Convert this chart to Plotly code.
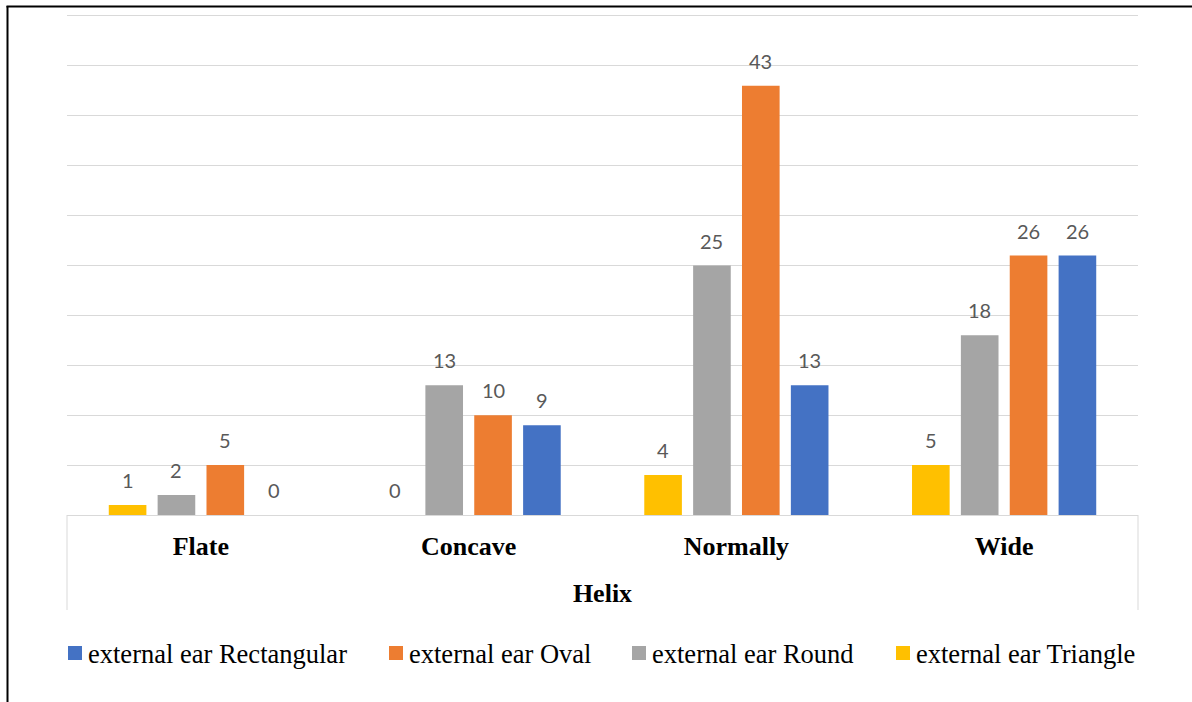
import plotly.graph_objects as go

categories = ["Flate", "Concave", "Normally", "Wide"]
triangle = [1, 0, 4, 5]
round_ = [2, 13, 25, 18]
oval = [5, 10, 43, 26]
rectangular = [0, 9, 13, 26]

series_names = ["external ear Triangle", "external ear Round",
                "external ear Oval", "external ear Rectangular"]
series_values = [triangle, round_, oval, rectangular]
series_colors = ["#FFC000", "#A5A5A5", "#ED7D31", "#4472C4"]

W, H = 1192, 702
ml, mr, mt, mb = 67, 54, 13, 187
pw, ph = W - ml - mr, H - mt - mb
bargap, bargroupgap = 0.27, 0.23
SERIF = "Liberation Serif"


def px_x(p):
    return (p - ml) / pw


def px_y(p):
    return (H - mb - p) / ph


fig = go.Figure()
for name, vals, col in zip(series_names, series_values, series_colors):
    fig.add_trace(go.Bar(x=categories, y=vals, name=name, showlegend=False,
                         marker=dict(color=col, line=dict(width=0))))

annotations = []
n = len(series_values)
slot = (1 - bargap) / n
for ti, vals in enumerate(series_values):
    off = -(1 - bargap) / 2 + (ti + 0.5) * slot
    for ci, v in enumerate(vals):
        annotations.append(dict(x=ci + off, y=v, xref="x", yref="y", text=str(v),
                                showarrow=False, yshift=25, yanchor="middle",
                                font=dict(family="Lato", size=20, color="#595959")))

shapes = []
for xd in (0, 1):
    shapes.append(dict(type="line", xref="x domain", yref="paper", x0=xd, x1=xd,
                       y0=0, y1=px_y(610), line=dict(color="#d9d9d9", width=1)))
# outer border (left and top)
shapes.append(dict(type="line", xref="paper", yref="paper", x0=px_x(7.5), x1=px_x(7.5),
                   y0=px_y(6), y1=px_y(710), line=dict(color="black", width=2)))
shapes.append(dict(type="line", xref="paper", yref="paper", x0=px_x(6.5), x1=px_x(1200),
                   y0=px_y(6.5), y1=px_y(6.5), line=dict(color="black", width=2)))

# legend (order: Rectangular, Oval, Round, Triangle)
legend_starts = [68, 389, 632, 896]
legend_y = 653
for start, idx in zip(legend_starts, [3, 2, 1, 0]):
    shapes.append(dict(type="rect", xref="paper", yref="paper",
                       x0=px_x(start), x1=px_x(start + 14),
                       y0=px_y(legend_y - 7), y1=px_y(legend_y + 7),
                       fillcolor=series_colors[idx], line=dict(width=0)))
    annotations.append(dict(x=px_x(start + 18), y=px_y(legend_y + 1), xref="paper", yref="paper",
                            xanchor="left", yanchor="middle", showarrow=False,
                            text=series_names[idx],
                            font=dict(family=SERIF, size=26.5, color="black")))

fig.update_layout(
    width=W, height=H,
    margin=dict(l=ml, r=mr, t=mt, b=mb),
    paper_bgcolor="white", plot_bgcolor="white",
    barmode="group", bargap=bargap, bargroupgap=bargroupgap,
    showlegend=False,
    annotations=annotations,
    shapes=shapes,
    xaxis=dict(showgrid=False, showline=True, linecolor="#d9d9d9", linewidth=1,
               ticks="outside", ticklen=8, tickcolor="rgba(0,0,0,0)",
               tickfont=dict(family=SERIF, size=26, color="black", weight="bold"),
               title=dict(text="Helix", standoff=23,
                          font=dict(family=SERIF, size=26, color="black", weight="bold")),
               automargin=False),
    yaxis=dict(range=[0, 50.3], dtick=5, showgrid=True, gridcolor="#d9d9d9", gridwidth=1,
               showticklabels=False, zeroline=False, showline=False, automargin=False),
)

fig.write_html("out.html")
